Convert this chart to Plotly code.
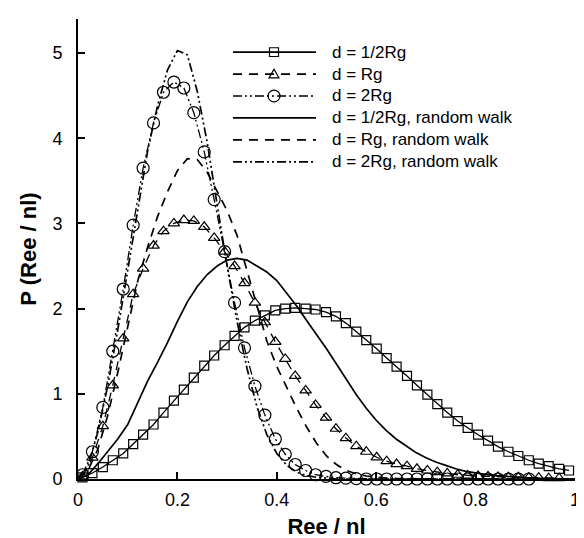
import plotly.graph_objects as go

# ---------------- data ----------------
# x positions of the symbol series (Ree / nl)
X_MARK = [0.009, 0.029, 0.050, 0.070, 0.091, 0.111, 0.131, 0.152, 0.172, 0.193,
          0.213, 0.233, 0.254, 0.274, 0.295, 0.315, 0.335, 0.356, 0.376, 0.397,
          0.417, 0.437, 0.458, 0.478, 0.499, 0.519, 0.539, 0.560, 0.580, 0.601,
          0.621, 0.641, 0.662, 0.682, 0.703, 0.723, 0.743, 0.764, 0.784, 0.805,
          0.825, 0.845, 0.866, 0.886, 0.907, 0.927, 0.947, 0.968, 0.988]

P_HALF_RG = [0.02, 0.07, 0.14, 0.22, 0.30, 0.41, 0.52, 0.64, 0.78, 0.92,
             1.05, 1.19, 1.33, 1.45, 1.57, 1.68, 1.78, 1.86, 1.92, 1.98,
             2.00, 2.01, 2.00, 1.99, 1.96, 1.91, 1.83, 1.73, 1.63, 1.53,
             1.42, 1.32, 1.21, 1.10, 0.99, 0.88, 0.78, 0.68, 0.60, 0.52,
             0.45, 0.38, 0.32, 0.27, 0.22, 0.18, 0.15, 0.12, 0.10]

P_RG = [0.03, 0.25, 0.62, 1.10, 1.65, 2.17, 2.47, 2.74, 2.91, 3.00,
        3.04, 3.03, 2.96, 2.83, 2.67, 2.50, 2.30, 2.07, 1.84, 1.61,
        1.41, 1.21, 1.04, 0.87, 0.72, 0.59, 0.48, 0.385, 0.32, 0.255,
        0.21, 0.175, 0.15, 0.12, 0.10, 0.08, 0.065, 0.05, 0.04, 0.035,
        0.03, 0.025, 0.02, 0.02, 0.015, 0.015, 0.01, 0.01]

P_2RG = [0.05, 0.32, 0.84, 1.50, 2.23, 2.98, 3.65, 4.18, 4.54, 4.66,
         4.59, 4.30, 3.84, 3.28, 2.67, 2.07, 1.54, 1.09, 0.75, 0.47,
         0.29, 0.17, 0.10, 0.05, 0.03, 0.015, 0.01, 0.005, 0.0, 0.0,
         0.0, 0.0, 0.0, 0.0, 0.0, 0.0, 0.0, 0.0, 0.0, 0.0,
         0.0, 0.0, 0.0, 0.0, 0.0]

# random-walk curves
X_RW = [0.00, 0.02, 0.04, 0.06, 0.08, 0.10, 0.12, 0.14, 0.16, 0.18,
        0.20, 0.22, 0.24, 0.26, 0.28, 0.30, 0.32, 0.34, 0.36, 0.38,
        0.40, 0.42, 0.44, 0.46, 0.48, 0.50, 0.52, 0.54, 0.56, 0.58,
        0.60, 0.62, 0.64, 0.66, 0.68, 0.70, 0.72, 0.74, 0.76, 0.78,
        0.80, 0.82, 0.84, 0.86, 0.88, 0.90, 0.92, 0.94, 0.96, 0.98, 1.00]

RW_HALF_RG = [0.0, 0.05, 0.18, 0.32, 0.47, 0.64, 0.90, 1.15, 1.37, 1.60,
              1.85, 2.08, 2.26, 2.40, 2.50, 2.57, 2.59, 2.57, 2.50, 2.43,
              2.33, 2.18, 2.03, 1.86, 1.70, 1.53, 1.35, 1.17, 0.99, 0.83,
              0.69, 0.57, 0.47, 0.39, 0.31, 0.25, 0.20, 0.16, 0.12, 0.09,
              0.07, 0.055, 0.04, 0.03, 0.02, 0.015, 0.01, 0.008, 0.005, 0.003, 0.0]

RW_RG = [0.0, 0.10, 0.35, 0.75, 1.25, 1.80, 2.32, 2.72, 3.08, 3.37,
         3.62, 3.76, 3.75, 3.60, 3.38, 3.15, 2.86, 2.45, 2.02, 1.62,
         1.32, 1.07, 0.83, 0.61, 0.42, 0.27, 0.17, 0.10, 0.06, 0.035,
         0.02, 0.012, 0.007, 0.004, 0.0, 0.0, 0.0, 0.0, 0.0, 0.0,
         0.0, 0.0, 0.0, 0.0, 0.0, 0.0, 0.0, 0.0, 0.0, 0.0, 0.0]

RW_2RG = [0.0, 0.15, 0.55, 1.10, 1.75, 2.45, 3.20, 3.85, 4.38, 4.80,
          5.03, 4.98, 4.55, 3.95, 3.22, 2.50, 1.85, 1.30, 0.85, 0.52,
          0.30, 0.16, 0.08, 0.04, 0.02, 0.01, 0.0, 0.0, 0.0, 0.0,
          0.0, 0.0, 0.0, 0.0, 0.0, 0.0, 0.0, 0.0, 0.0, 0.0,
          0.0, 0.0, 0.0, 0.0, 0.0, 0.0, 0.0, 0.0, 0.0, 0.0, 0.0]

LEGEND_LABELS = ["d = 1/2Rg", "d = Rg", "d = 2Rg",
                 "d = 1/2Rg, random walk", "d = Rg, random walk", "d = 2Rg, random walk"]

X_TICKS = [0, 0.2, 0.4, 0.6, 0.8, 1.0]
X_TICK_TEXT = ["0", "0.2", "0.4", "0.6", "0.8", "1"]
Y_TICKS = [0, 1, 2, 3, 4, 5]

# ---------------- styles ----------------
FONT = "Liberation Sans, Arial, sans-serif"
DASH = "9px,7px"
DASHDOTDOT = "9px,3px,2px,3px,2px,3px"
LW = 1.7

styles = [
    dict(dash="solid", symbol="square-open", size=9),
    dict(dash=DASH, symbol="triangle-up-open", size=10),
    dict(dash=DASHDOTDOT, symbol="circle-open", size=12),
    dict(dash="solid", symbol=None, size=0),
    dict(dash=DASH, symbol=None, size=0),
    dict(dash=DASHDOTDOT, symbol=None, size=0),
]

fig = go.Figure()

mark_series = [(X_MARK[:len(P_HALF_RG)], P_HALF_RG),
               (X_MARK[:len(P_RG)], P_RG),
               (X_MARK[:len(P_2RG)], P_2RG)]
for i, (xs, ys) in enumerate(mark_series):
    s = styles[i]
    fig.add_trace(go.Scatter(
        x=xs, y=ys, mode="lines+markers", name=LEGEND_LABELS[i],
        line=dict(color="black", width=1.3, dash=s["dash"]),
        marker=dict(symbol=s["symbol"], size=s["size"], color="black",
                    line=dict(width=1.2, color="black")),
        cliponaxis=False, showlegend=False))

for i, ys in enumerate([RW_HALF_RG, RW_RG, RW_2RG]):
    s = styles[i + 3]
    fig.add_trace(go.Scatter(
        x=X_RW, y=ys, mode="lines", name=LEGEND_LABELS[i + 3],
        line=dict(color="black", width=LW, dash=s["dash"]),
        cliponaxis=False, showlegend=False))

# ---------------- manual legend (paper coords) ----------------
L, R, T, B = 70, 17, 11, 55
W, H = 584, 538
PW, PH = W - L - R, H - T - B

def px(xp):
    return (xp - L) / PW

def py(yp):
    return (H - B - yp) / PH

rows = [45, 67.5, 90, 112.5, 135, 157.5]
x0, x1, xm, xt = 225, 308, 266, 322
shapes = []
annotations = []
for i, yr in enumerate(rows):
    s = styles[i]
    shapes.append(dict(type="line", xref="paper", yref="paper",
                       x0=px(x0), x1=px(x1), y0=py(yr), y1=py(yr),
                       line=dict(color="black", width=LW, dash=s["dash"])))
    annotations.append(dict(xref="paper", yref="paper", x=px(xt), y=py(yr),
                            text=LEGEND_LABELS[i], showarrow=False,
                            xanchor="left", yanchor="middle",
                            font=dict(family=FONT, size=17, color="black")))

# legend symbols
h = 4.5
shapes.append(dict(type="rect", xref="paper", yref="paper",
                   x0=px(xm - h), x1=px(xm + h), y0=py(rows[0] + h), y1=py(rows[0] - h),
                   line=dict(color="black", width=1.2), fillcolor="rgba(0,0,0,0)"))
t = 5
shapes.append(dict(type="path", xref="paper", yref="paper",
                   path=f"M {px(xm - t)} {py(rows[1] + t*0.8)} L {px(xm + t)} {py(rows[1] + t*0.8)} "
                        f"L {px(xm)} {py(rows[1] - t)} Z",
                   line=dict(color="black", width=1.2), fillcolor="rgba(0,0,0,0)"))
c = 6
shapes.append(dict(type="circle", xref="paper", yref="paper",
                   x0=px(xm - c), x1=px(xm + c), y0=py(rows[2] + c), y1=py(rows[2] - c),
                   line=dict(color="black", width=1.2), fillcolor="rgba(0,0,0,0)"))

fig.update_layout(
    width=W, height=H,
    margin=dict(l=L, r=R, t=T, b=B, pad=0),
    paper_bgcolor="white", plot_bgcolor="white",
    font=dict(family=FONT, color="black"),
    shapes=shapes, annotations=annotations,
    showlegend=False,
)
fig.update_xaxes(
    range=[0, 1], tickvals=X_TICKS, ticktext=X_TICK_TEXT,
    showline=True, linecolor="black", linewidth=2, mirror=False,
    ticks="inside", ticklen=7, tickwidth=2, tickcolor="black",
    showgrid=False, zeroline=False, ticklabelstandoff=3,
    tickfont=dict(family=FONT, size=18, color="black"),
    title=dict(text="<b>Ree / nl</b>", font=dict(family=FONT, size=22, color="black"), standoff=10),
)
fig.update_yaxes(
    range=[0, 5.4], tickvals=Y_TICKS,
    showline=True, linecolor="black", linewidth=2, mirror=False,
    ticks="inside", ticklen=7, tickwidth=2, tickcolor="black",
    showgrid=False, zeroline=False, ticklabelstandoff=10,
    tickfont=dict(family=FONT, size=18, color="black"),
    title=dict(text="<b>P (Ree / nl)</b>", font=dict(family=FONT, size=22, color="black"), standoff=10),
)

fig.write_html("out.html")
